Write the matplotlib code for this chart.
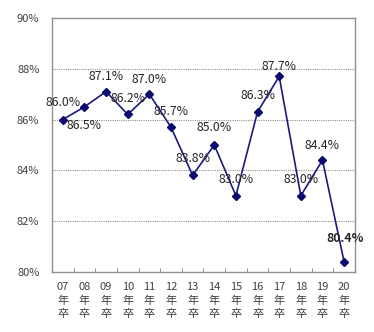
import numpy as np
import matplotlib.pyplot as plt

plt.rcParams['font.family'] = ['Noto Sans CJK JP', 'DejaVu Sans']

years = ['07', '08', '09', '10', '11', '12', '13', '14', '15', '16', '17', '18', '19', '20']
rates = [86.0, 86.5, 87.1, 86.2, 87.0, 85.7, 83.8, 85.0, 83.0, 86.3, 87.7, 83.0, 84.4, 80.4]
# label offsets in pixels (dx, dy) relative to each point
offsets = [(0, 17), (0, -19), (0, 15), (0, 16), (0, 15), (0, 16), (0, 17), (0, 17),
           (0, 16), (0, 16), (0, 10), (0, 16), (0, 15), (1, 23)]

fig = plt.figure(figsize=(3.74, 3.32), dpi=100)
ax = fig.add_axes([0.139, 0.181, 0.810, 0.765])

x = np.arange(len(years))
ax.plot(x, rates, color='#1a1a80', lw=1.2, marker='D', ms=4.5, mfc='#0a0a6e', mec='#0a0a6e', zorder=3)

for i, (xi, v) in enumerate(zip(x, rates)):
    dx, dy = offsets[i]
    ax.annotate(f'{v:.1f}%', (xi, v), xytext=(dx, dy), textcoords='offset pixels',
                ha='center', va='center', fontsize=8.8, color='#262626',
                fontweight='bold' if i == len(rates) - 1 else 'normal', zorder=4)

ax.set_xlim(-0.5, len(years) - 0.5)
ax.set_ylim(80, 90)
ax.set_yticks([80, 82, 84, 86, 88, 90])
ax.set_yticklabels([f'{t}%' for t in [80, 82, 84, 86, 88, 90]], fontsize=8, color='#404040')
ax.set_xticks(x)
ax.set_xticklabels([f'{y}\n年\n卒' for y in years], fontsize=8, color='#404040', linespacing=1.45)
ax.set_xticks(np.arange(0.5, len(years) - 1, 1), minor=True)
ax.tick_params(axis='x', which='major', length=0, pad=7)
ax.tick_params(axis='x', which='minor', direction='in', length=3, color='#808080')
ax.tick_params(axis='y', length=0, pad=9)

for yv in [82, 84, 86, 88]:
    ax.axhline(yv, color='#909090', lw=0.8, ls=(0, (1, 1)), zorder=1)

for s in ax.spines.values():
    s.set_color('#909090')
    s.set_linewidth(1.0)

fig.savefig('out.png', dpi=100)
